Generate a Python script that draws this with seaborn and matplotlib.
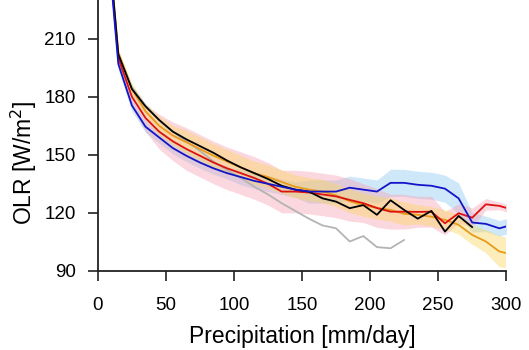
import numpy as np
import pandas as pd
import matplotlib
matplotlib.use("Agg")
import matplotlib.pyplot as plt
import seaborn as sns

# precipitation bin centres (mm/day)
precip = [5, 15, 25, 35, 45, 55, 65, 75, 85, 95, 105, 115, 125, 135, 145,
          155, 165, 175, 185, 195, 205, 215, 225, 235, 245, 255, 265, 275,
          285, 295, 305]

olr_blue = [278, 197, 175.5, 164.5, 159, 153.5, 149.5, 146, 143, 140.5, 138.5,
            136.5, 135, 133.5, 132, 131, 131, 131, 133, 132, 131, 135.5, 135.5,
            134.5, 134, 132.5, 127.5, 115, 114.3, 112, 114]
olr_red = [280, 200, 180, 169, 162, 157, 153, 149.5, 146, 143, 140.5, 138, 135,
           131, 131, 130.5, 129.5, 128.5, 126.7, 125, 122.5, 120.6, 120.6, 120.5,
           120.6, 114.6, 119.8, 117.5, 124.4, 123.6, 121.5]
olr_orange = [282, 203, 184, 172.5, 165, 160, 156.5, 153, 149.5, 146.5, 143.5,
              140.5, 138.5, 136, 133.5, 132, 131, 129, 126, 124, 122.5, 121.5,
              119.5, 119, 118, 116.4, 113.8, 108.6, 105.2, 100, 98.5]
olr_black = [282, 202, 184, 175, 168, 162, 158, 154.5, 151, 147, 143.5, 140.5,
             137.5, 134, 132, 131, 127.5, 125.8, 122.4, 124, 119, 126.5, 121.5,
             117, 121, 110.3, 118.4, 112.6]
olr_gray = [282, 202, 185, 175.5, 168, 162, 157, 152, 146.5, 142, 138, 133.5,
            129.5, 125, 121, 117, 113.5, 112, 105.2, 108, 102.3, 101.7, 106]

# half-widths of the shaded spread around blue, red and orange
spread_blue = [3, 3, 3, 3, 3, 3, 3, 3, 3, 3, 4, 4, 4, 4, 4, 6, 6, 6, 6, 6, 6,
               7, 7, 7, 7, 7, 8, 5, 4, 4, 4]
spread_red = [3, 3, 5, 7, 9, 10, 11, 11, 11, 11, 11, 11, 11, 11, 11, 11, 11,
              11, 11, 10, 10, 9, 9, 8, 8, 6, 5, 5, 3, 2, 2]
spread_orange = [2, 2, 3, 4, 5, 5, 6, 6, 6, 6, 6, 6, 6, 6, 6, 6, 6, 6, 6, 6, 6,
                 6, 6, 5, 5, 5, 5, 5, 6, 8, 8]

sns.set_style("ticks")
plt.rcParams['font.family'] = ['Liberation Sans', 'DejaVu Sans']
plt.rcParams['text.color'] = 'black'
plt.rcParams['axes.labelcolor'] = 'black'
plt.rcParams['xtick.color'] = 'black'
plt.rcParams['ytick.color'] = 'black'

fig = plt.figure(figsize=(5.29, 3.5), dpi=100)
ax = fig.add_axes([0.185, 0.226, 0.772, 0.774])

# shaded spreads
bands = [(olr_blue, spread_blue, '#9fd3f5', 0.5),
         (olr_red, spread_red, '#f7a1b5', 0.42),
         (olr_orange, spread_orange, '#f9d65c', 0.42)]
for vals, sp, col, a in bands:
    v = np.array(vals)
    s = np.array(sp)
    ax.fill_between(precip[:len(v)], v - s, v + s, color=col, alpha=a,
                    linewidth=0)

series = [('gray', olr_gray, '#b4b4b4'),
          ('orange', olr_orange, '#e89a1c'),
          ('red', olr_red, '#dd1111'),
          ('black', olr_black, '#000000'),
          ('blue', olr_blue, '#1414c8')]
rows = []
for name, vals, col in series:
    for p, v in zip(precip, vals):
        rows.append({'precip': p, 'olr': v, 'model': name})
df = pd.DataFrame(rows)
palette = {name: col for name, vals, col in series}
sns.lineplot(data=df, x='precip', y='olr', hue='model', palette=palette,
             hue_order=[s[0] for s in series], linewidth=1.3, legend=False,
             ax=ax)

ax.set_xlim(0, 300)
ax.set_ylim(90, 230)
ax.set_xticks([0, 50, 100, 150, 200, 250, 300])
ax.set_yticks([90, 120, 150, 180, 210])
ax.tick_params(direction='out', length=7, width=1.2, labelsize=13.5,
               color='#222222', labelcolor='black')
ax.tick_params(axis='x', pad=12)
ax.tick_params(axis='y', pad=9)
for side in ['top', 'right']:
    ax.spines[side].set_visible(False)
for side in ['left', 'bottom']:
    ax.spines[side].set_linewidth(1.3)
    ax.spines[side].set_color('#222222')

ax.set_xlabel('Precipitation [mm/day]', fontsize=16.5, labelpad=8)
ax.set_ylabel('OLR [W/m$^2$]', fontsize=16.5, labelpad=3)
ax.yaxis.set_label_coords(-0.143, 0.40)

fig.savefig('out.png', dpi=100)
